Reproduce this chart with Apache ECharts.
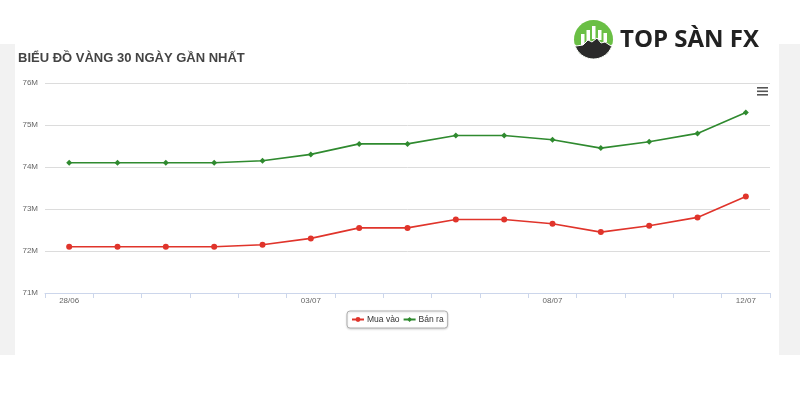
<!DOCTYPE html>
<html>
<head>
<meta charset="utf-8">
<script src="https://cdn.jsdelivr.net/npm/echarts@6/dist/echarts.min.js"></script>
<style>
html,body{margin:0;padding:0;background:#fff;}
#chart{width:800px;height:400px;}
</style>
</head>
<body>
<div id="chart"></div>
<script>
// ---- data ----
var categories = ['28/06','29/06','30/06','01/07','02/07','03/07','04/07','05/07','06/07','07/07','08/07','09/07','10/07','11/07','12/07'];
var muaVao = [72100000,72100000,72100000,72100000,72150000,72300000,72550000,72550000,72750000,72750000,72650000,72450000,72600000,72800000,73300000];
var banRa  = [74100000,74100000,74100000,74100000,74150000,74300000,74550000,74550000,74750000,74750000,74650000,74450000,74600000,74800000,75300000];
var seriesNames = ['Mua vào','Bán ra'];
var titleText = 'BIỂU ĐỒ VÀNG 30 NGÀY GẦN NHẤT';
var brandText = 'TOP SÀN FX';
var labelIdx = [0,5,10,14];

var chart = echarts.init(document.getElementById('chart'), null, {renderer:'canvas'});

// logo mountain polygon (decoration)
var cx = 593.5, cy = 39.5, r = 19.5;
function arcPts(a0, a1, n){
  var p=[];
  for(var i=0;i<=n;i++){var a=a0+(a1-a0)*i/n;p.push([cx+r*Math.cos(a),cy+r*Math.sin(a)]);}
  return p;
}
var mountain = arcPts(Math.PI*0.92, Math.PI*0.08, 20);
mountain = mountain.concat([[611,46],[605,42],[601,43],[597,38],[592,42],[588,40],[583,45],[576,46]]);

var option = {
  animation:false,
  backgroundColor:'#ffffff',
  title:{
    text:titleText, left:13, top:47,
    textStyle:{fontFamily:'Liberation Sans, Arial, sans-serif', fontSize:13, fontWeight:'bold', color:'#444'}
  },
  legend:{
    data:seriesNames, left:347, top:311,
    itemWidth:12, itemHeight:6, itemGap:3,
    padding:[4,4,4,4],
    borderColor:'#b0b0b0', borderWidth:1, borderRadius:3,
    backgroundColor:'#fff',
    shadowColor:'rgba(0,0,0,0.15)', shadowBlur:2, shadowOffsetY:1,
    textStyle:{fontFamily:'Liberation Sans Narrow, Liberation Sans, Arial, sans-serif', fontSize:8.5, color:'#333', padding:[0,0,0,-2]}
  },
  grid:{left:45, right:30, top:83, bottom:107, containLabel:false},
  xAxis:{
    type:'category', data:categories, boundaryGap:true,
    axisLine:{lineStyle:{color:'#ccd6eb', width:1}},
    axisTick:{show:true, interval:0, length:5, lineStyle:{color:'#ccd6eb'}},
    axisLabel:{
      interval:function(i){return labelIdx.indexOf(i)>=0;},
      fontFamily:'Liberation Sans, Arial, sans-serif', fontSize:8, color:'#666', margin:4
    }
  },
  yAxis:{
    type:'value', min:71000000, max:76000000, interval:1000000,
    axisLine:{show:false}, axisTick:{show:false},
    splitLine:{lineStyle:{color:'#dcdcdc', width:1}},
    axisLabel:{
      formatter:function(v){return (v/1000000)+'M';},
      fontFamily:'Liberation Sans, Arial, sans-serif', fontSize:8, color:'#666', margin:7
    }
  },
  series:[
    {name:seriesNames[0], type:'line', data:muaVao, symbol:'circle', symbolSize:6,
     lineStyle:{color:'#e0342b', width:1.6}, itemStyle:{color:'#e0342b'}},
    {name:seriesNames[1], type:'line', data:banRa, symbol:'diamond', symbolSize:6,
     lineStyle:{color:'#2f8a2f', width:1.6}, itemStyle:{color:'#2f8a2f'}}
  ],
  graphic:[
    {type:'rect', shape:{x:0,y:44,width:15,height:311}, style:{fill:'#f2f2f2'}, silent:true, z:-10},
    {type:'rect', shape:{x:779,y:44,width:21,height:311}, style:{fill:'#f2f2f2'}, silent:true, z:-10},
    // hamburger
    {type:'rect', shape:{x:757,y:87,width:11,height:1.6}, style:{fill:'#555'}},
    {type:'rect', shape:{x:757,y:90.5,width:11,height:1.6}, style:{fill:'#555'}},
    {type:'rect', shape:{x:757,y:94,width:11,height:1.6}, style:{fill:'#555'}},
    // logo
    {type:'circle', shape:{cx:cx,cy:cy,r:r}, style:{fill:'#6abf45'}},
    {type:'rect', shape:{x:581,y:34,width:3.5,height:12}, style:{fill:'#fff'}},
    {type:'rect', shape:{x:586.5,y:30,width:3.5,height:12}, style:{fill:'#fff'}},
    {type:'rect', shape:{x:592,y:26,width:3.5,height:13}, style:{fill:'#fff'}},
    {type:'rect', shape:{x:598,y:30,width:3.5,height:10}, style:{fill:'#fff'}},
    {type:'rect', shape:{x:603.5,y:33,width:3.5,height:9}, style:{fill:'#fff'}},
    {type:'polygon', shape:{points:mountain}, style:{fill:'#2a2a2a', stroke:'#fff', lineWidth:1}},
    {type:'text', left:620, top:28, style:{text:brandText, fontFamily:'Open Sans, Liberation Sans, sans-serif', fontWeight:'bold', fontSize:24, fill:'#222'}}
  ]
};
chart.setOption(option);
</script>
</body>
</html>
